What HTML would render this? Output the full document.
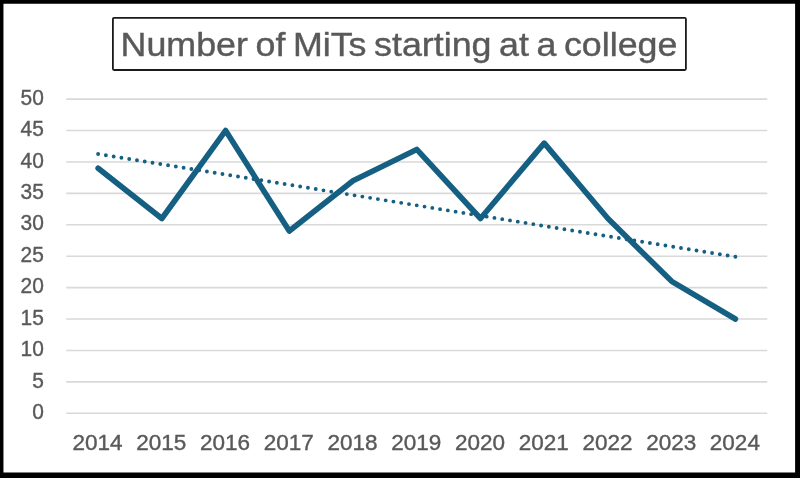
<!DOCTYPE html>
<html><head><meta charset="utf-8"><style>
html,body{margin:0;padding:0;}
body{width:800px;height:478px;background:#fff;position:relative;overflow:hidden;font-family:"Liberation Sans",sans-serif;}
#txt{position:absolute;left:0;top:0;width:800px;height:478px;will-change:transform;}
#tt{position:absolute;left:-0.7px;top:28.0px;width:800px;text-align:center;font-size:33px;line-height:33px;color:#595959;white-space:nowrap;-webkit-text-stroke:0.4px #595959;word-spacing:-2.2px;transform:scaleX(1.085);transform-origin:400px 0;}
.yl{position:absolute;left:0;width:43.8px;text-align:right;font-size:22.5px;line-height:22.5px;color:#595959;-webkit-text-stroke:0.4px #595959;transform:scale(0.93,1.0);transform-origin:100% 50%;}
.xl{position:absolute;top:432.3px;width:80px;text-align:center;font-size:22.5px;line-height:22.5px;color:#595959;-webkit-text-stroke:0.4px #595959;}
svg{position:absolute;left:0;top:0;}
</style></head><body>
<div id="txt">
<div id="tt">Number of MiTs starting at a college</div>
<div class="yl" style="top:400.95px">0</div><div class="yl" style="top:369.54px">5</div><div class="yl" style="top:338.13px">10</div><div class="yl" style="top:306.72px">15</div><div class="yl" style="top:275.31px">20</div><div class="yl" style="top:243.90px">25</div><div class="yl" style="top:212.49px">30</div><div class="yl" style="top:181.08px">35</div><div class="yl" style="top:149.67px">40</div><div class="yl" style="top:118.26px">45</div><div class="yl" style="top:86.85px">50</div>
<div class="xl" style="left:57.61px">2014</div><div class="xl" style="left:121.34px">2015</div><div class="xl" style="left:185.07px">2016</div><div class="xl" style="left:248.80px">2017</div><div class="xl" style="left:312.52px">2018</div><div class="xl" style="left:376.25px">2019</div><div class="xl" style="left:439.98px">2020</div><div class="xl" style="left:503.70px">2021</div><div class="xl" style="left:567.43px">2022</div><div class="xl" style="left:631.16px">2023</div><div class="xl" style="left:694.89px">2024</div>
</div>
<svg width="800" height="478" viewBox="0 0 800 478">
<path fill="#000" fill-rule="evenodd" d="M0 0H800V478H0Z M3.45 3.75V472.5H795.1V3.75Z"/>
<rect x="112.90" y="17.90" width="573.00" height="52.10" rx="1.2" fill="none" stroke="#1a1a1a" stroke-width="1.8"/>
<g stroke="#d9d9d9" stroke-width="1.6"><line x1="66.25" y1="413.25" x2="767.25" y2="413.25"/><line x1="66.25" y1="381.84" x2="767.25" y2="381.84"/><line x1="66.25" y1="350.43" x2="767.25" y2="350.43"/><line x1="66.25" y1="319.02" x2="767.25" y2="319.02"/><line x1="66.25" y1="287.61" x2="767.25" y2="287.61"/><line x1="66.25" y1="256.20" x2="767.25" y2="256.20"/><line x1="66.25" y1="224.79" x2="767.25" y2="224.79"/><line x1="66.25" y1="193.38" x2="767.25" y2="193.38"/><line x1="66.25" y1="161.97" x2="767.25" y2="161.97"/><line x1="66.25" y1="130.56" x2="767.25" y2="130.56"/><line x1="66.25" y1="99.15" x2="767.25" y2="99.15"/></g>
<line x1="98.11" y1="153.97" x2="735.39" y2="256.77" stroke="#156082" stroke-width="3.9" stroke-linecap="round" stroke-dasharray="0 7.8721"/>
<polyline points="98.11,168.25 161.84,218.51 225.57,130.56 289.30,231.07 353.02,180.82 416.75,149.41 480.48,218.51 544.20,143.12 607.93,218.51 671.66,281.33 735.39,319.02" fill="none" stroke="#156082" stroke-width="5.6" stroke-linecap="round" stroke-linejoin="round"/>
</svg>
</body></html>
